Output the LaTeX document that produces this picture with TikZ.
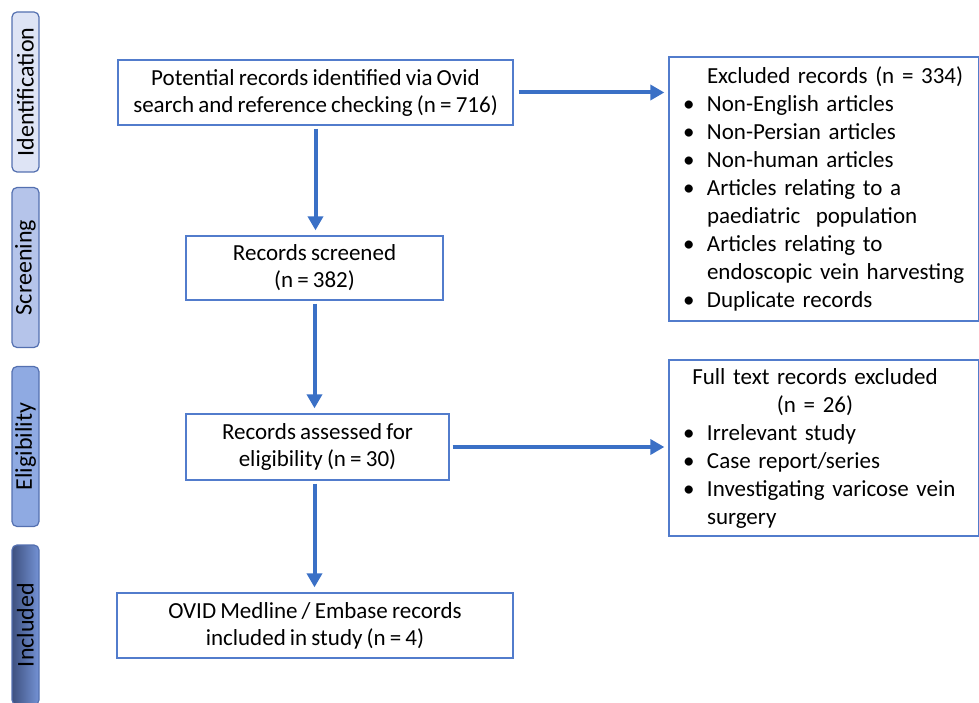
\documentclass[tikz,border=0pt]{standalone}
\usepackage{fontspec}
\setmainfont{Carlito}[WordSpace=0.8]
\usetikzlibrary{positioning,arrows.meta}

\definecolor{flowblue}{RGB}{58,112,198}
\definecolor{boxline}{RGB}{82,124,204}
\definecolor{stageline}{RGB}{84,112,176}
\definecolor{stageA}{RGB}{222,228,245}
\definecolor{stageB}{RGB}{181,196,234}
\definecolor{stageC}{RGB}{143,170,226}
\definecolor{stageDtop}{RGB}{116,146,212}
\definecolor{stageDbot}{RGB}{62,81,128}

\newcommand{\bitem}[1]{\makebox[24pt][l]{\textbullet}\mbox{#1}}
\newcommand{\bcont}[1]{\hspace*{24pt}\mbox{#1}}

\begin{document}
\begin{tikzpicture}[x=1pt,y=1pt,
  box/.style={draw=boxline, line width=1.3pt, align=center, inner sep=0pt,
    font=\fontsize{23}{27}\selectfont},
  listbox/.style={draw=boxline, line width=1.3pt, align=left, inner xsep=14pt,
    inner ysep=0pt, text width=282pt, minimum width=310pt,
    font=\fontsize{23}{28}\selectfont},
  stage/.style={draw=stageline, line width=1.2pt, rounded corners=5pt, rotate=90,
    minimum height=27pt, minimum width=160pt, inner sep=0pt,
    font=\fontsize{24}{24}\selectfont},
  flow/.style={-{Triangle[length=14pt,width=15pt]}, line width=4pt, draw=flowblue}]
\clip (0,0) rectangle (979,-703);

% stage labels on the left
\foreach \nm/\lbl/\yc/\col in {ident/Identification/92/stageA,
    screen/Screening/267.5/stageB, elig/Eligibility/446.5/stageC}{
  \node[stage, fill=\col] (\nm) at (25.5,-\yc) {\lbl};
}
\node[stage, left color=stageDbot, right color=stageDtop] (incl) at (25.5,-625) {Included};

% main flow
\node[box, minimum width=395pt, minimum height=65pt] (found) at (315.5,-92.5)
  {Potential records identified via Ovid\\search and reference checking (n = 716)};
\node[box, minimum width=257pt, minimum height=64pt] (screened) at (314.5,-268)
  {Records screened\\(n = 382)};
\node[box, minimum width=263pt, minimum height=66pt] (assessed) at (317.5,-447)
  {Records assessed for\\eligibility (n = 30)};
\node[box, minimum width=396pt, minimum height=65pt] (included) at (315,-625.5)
  {OVID Medline / Embase records\\included in study (n = 4)};

% exclusions
\node[listbox, minimum height=264pt] (excl) at (824,-189)
  {\bcont{Excluded records (n = 334)}\\
   \bitem{Non-English articles}\\
   \bitem{Non-Persian articles}\\
   \bitem{Non-human articles}\\
   \bitem{Articles relating to a}\\
   \bcont{paediatric\ \ population}\\
   \bitem{Articles relating to}\\
   \bcont{endoscopic vein harvesting}\\
   \bitem{Duplicate records}};
\node[listbox, minimum height=176pt] (fulltext) at (824,-448)
  {\makebox[264pt]{Full text records excluded}\\
   \makebox[264pt]{(n = 26)}\\
   \bitem{Irrelevant study}\\
   \bitem{Case report/series}\\
   \bitem{Investigating varicose vein}\\
   \bcont{surgery}};

% arrows
\draw[flow, shorten <=3pt, shorten >=5pt] (found.south) -- (found.south |- screened.north);
\draw[flow, shorten <=3pt, shorten >=5pt] (screened.south) -- (screened.south |- assessed.north);
\draw[flow, shorten <=3pt, shorten >=5pt] ([xshift=-3pt]assessed.south) -- ([xshift=-3pt]assessed.south |- included.north);
\draw[flow, shorten <=5pt, shorten >=4pt] (found.east) -- (excl.west |- found.east);
\draw[flow, shorten <=3pt, shorten >=4pt] (assessed.east) -- (fulltext.west |- assessed.east);
\end{tikzpicture}
\end{document}
